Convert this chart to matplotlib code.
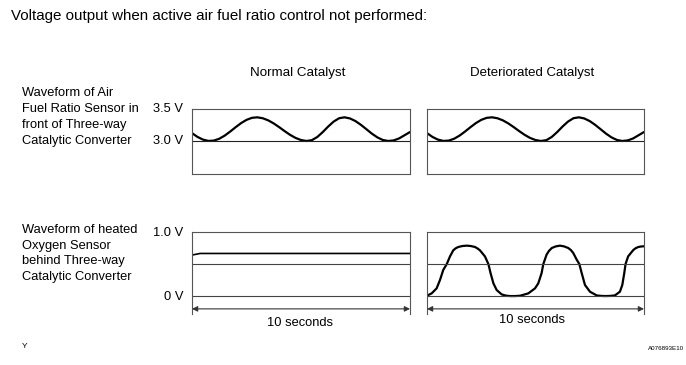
import matplotlib
matplotlib.use("Agg")
import matplotlib.pyplot as plt

plt.rcParams['font.family'] = ['Liberation Sans', 'DejaVu Sans']

W, H = 686, 365

title = "Voltage output when active air fuel ratio control not performed:"
col_titles = ["Normal Catalyst", "Deteriorated Catalyst"]
row_labels = [
    "Waveform of Air\nFuel Ratio Sensor in\nfront of Three-way\nCatalytic Converter",
    "Waveform of heated\nOxygen Sensor\nbehind Three-way\nCatalytic Converter",
]
af_ticks = ["3.5 V", "3.0 V"]
o2_ticks = ["1.0 V", "0 V"]
span_label = "10 seconds"
corner_left = "Y"
corner_right = "A076893E10"

# Air fuel ratio sensor waveform (same for both catalysts), time in s, volts
af_t = [0, 0.25, 0.5, 0.75, 1.0, 1.25, 1.5, 1.75, 2.0, 2.25, 2.5, 2.75,
        3.0, 3.25, 3.5, 3.75, 4.0, 4.25, 4.5, 4.75, 5.0, 5.25, 5.5, 5.75,
        6.0, 6.25, 6.5, 6.75, 7.0, 7.25, 7.5, 7.75, 8.0, 8.25, 8.5, 8.75,
        9.0, 9.25, 9.5, 9.75, 10.0]
af_v = [3.123, 3.064, 3.022, 3.001, 3.006, 3.035, 3.084, 3.147, 3.215, 3.279,
        3.330, 3.362, 3.370, 3.355, 3.322, 3.274, 3.216, 3.154, 3.096, 3.048,
        3.015, 3.000, 3.013, 3.063, 3.140, 3.227, 3.304, 3.356, 3.370, 3.352,
        3.311, 3.252, 3.184, 3.115, 3.057, 3.016, 3.000, 3.009, 3.040, 3.090,
        3.140]

# Heated oxygen sensor, normal catalyst
o2n_t = [0, 0.15, 0.37, 10]
o2n_v = [0.64, 0.65, 0.665, 0.665]

# Heated oxygen sensor, deteriorated catalyst
o2d_t = [0.0, 0.215, 0.445, 0.60, 0.75, 0.91, 1.06, 1.21, 1.32, 1.44, 1.63,
         1.83, 2.02, 2.21, 2.32, 2.44, 2.67, 2.83, 2.93, 3.06, 3.21, 3.44,
         3.62, 3.82, 4.05, 4.29, 4.67, 4.98, 5.13, 5.28, 5.36, 5.51, 5.62,
         5.75, 5.93, 6.13, 6.32, 6.51, 6.63, 6.74, 6.90, 7.02, 7.13, 7.28,
         7.51, 7.82, 8.00, 8.20, 8.43, 8.66, 8.89, 9.00, 9.09, 9.15, 9.27,
         9.51, 9.62, 9.74, 9.87, 10.0]
o2d_v = [0.005, 0.042, 0.121, 0.252, 0.409, 0.499, 0.619, 0.714, 0.745, 0.766,
         0.781, 0.787, 0.781, 0.766, 0.745, 0.714, 0.619, 0.499, 0.357, 0.199,
         0.094, 0.026, 0.008, 0.0, 0.0, 0.005, 0.042, 0.121, 0.200, 0.357,
         0.499, 0.646, 0.705, 0.750, 0.775, 0.787, 0.775, 0.750, 0.718, 0.672,
         0.567, 0.500, 0.357, 0.173, 0.068, 0.010, 0.003, 0.0, 0.002, 0.010,
         0.068, 0.173, 0.357, 0.500, 0.620, 0.720, 0.748, 0.766, 0.774, 0.777]

fig = plt.figure(figsize=(W / 100, H / 100), dpi=100)
fig.patch.set_facecolor('white')


def px_axes(x0, y0, x1, y1):
    return fig.add_axes([x0 / W, 1 - y1 / H, (x1 - x0) / W, (y1 - y0) / H])


def px_text(x, y, s, **kw):
    fig.text(x / W, 1 - y / H, s, **kw)


FS = 9.3
box_col = '#555555'

cols = [(192, 410), (427, 644)]

# top row
for (x0, x1) in cols:
    ax = px_axes(x0, 109, x1, 174)
    ax.plot(af_t, af_v, color='black', lw=1.6, solid_capstyle='round',
            solid_joinstyle='round')
    ax.axhline(3.0, color='#222222', lw=0.8)
    ax.set_xlim(0, 10)
    ax.set_ylim(2.484, 3.5)
    ax.set_xticks([])
    ax.set_yticks([])
    for sp in ax.spines.values():
        sp.set_color(box_col)
        sp.set_linewidth(0.8)

# bottom row
for i, (x0, x1) in enumerate(cols):
    ax = px_axes(x0, 232, x1, 314)
    if i == 0:
        ax.plot(o2n_t, o2n_v, color='black', lw=1.2)
    else:
        ax.plot(o2d_t, o2d_v, color='black', lw=1.6, solid_joinstyle='round')
    ax.axhline(0.5, color='#444444', lw=0.8)
    ax.axhline(0.0, color='#444444', lw=0.8)
    ax.set_xlim(0, 10)
    ax.set_ylim(-0.28, 1.0)
    ax.set_xticks([])
    ax.set_yticks([])
    ax.spines['bottom'].set_visible(False)
    for k in ['top', 'left', 'right']:
        ax.spines[k].set_color(box_col)
        ax.spines[k].set_linewidth(0.8)
    ax.annotate('', xy=(0, -0.2), xytext=(10, -0.2),
                arrowprops=dict(arrowstyle='<|-|>', color='#333333', lw=0.8,
                                mutation_scale=8, shrinkA=0, shrinkB=0))

# texts
px_text(11, 16, title, fontsize=10.9, va='center', ha='left')
px_text(298, 73, col_titles[0], fontsize=9.6, va='center', ha='center')
px_text(532, 73, col_titles[1], fontsize=9.5, va='center', ha='center')

for j, line in enumerate(row_labels[0].split('\n')):
    px_text(22, 93 + 16 * j, line, fontsize=FS, va='center', ha='left')
for j, line in enumerate(row_labels[1].split('\n')):
    px_text(22, 230 + 15.7 * j, line, fontsize=FS, va='center', ha='left')

px_text(183, 109, af_ticks[0], fontsize=FS, va='center', ha='right')
px_text(183, 141, af_ticks[1], fontsize=FS, va='center', ha='right')
px_text(183, 233, o2_ticks[0], fontsize=FS, va='center', ha='right')
px_text(183, 297, o2_ticks[1], fontsize=FS, va='center', ha='right')

px_text(300, 323, span_label, fontsize=FS, va='center', ha='center')
px_text(532, 320, span_label, fontsize=FS, va='center', ha='center')

px_text(22, 347, corner_left, fontsize=6, va='center', ha='left')
px_text(684, 349, corner_right, fontsize=4.5, va='center', ha='right')

fig.savefig('out.png', dpi=100, facecolor='white')
